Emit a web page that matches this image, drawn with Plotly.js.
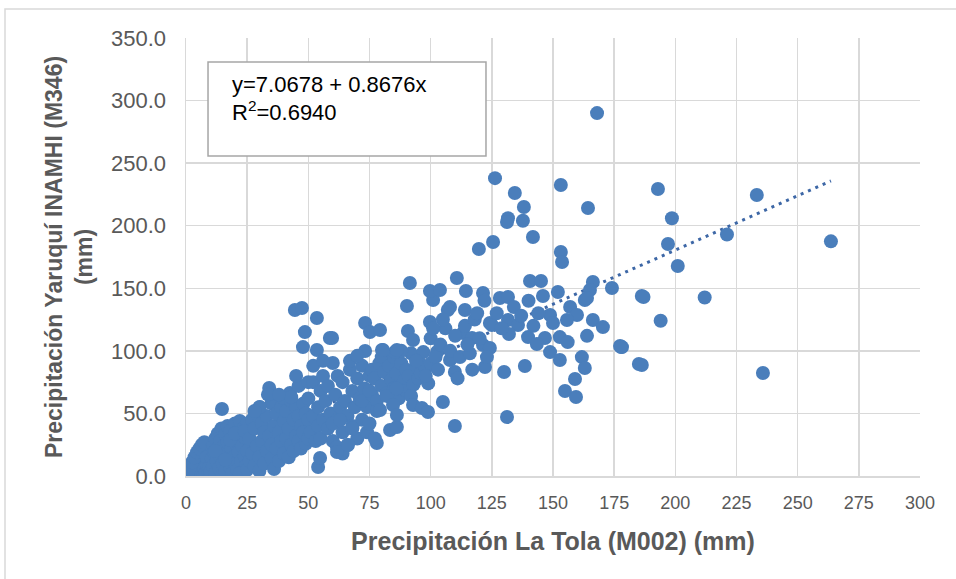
<!DOCTYPE html>
<html>
<head>
<meta charset="utf-8">
<script src="https://cdn.plot.ly/plotly-3.0.1.min.js"></script>
<style>
  html, body { margin: 0; padding: 0; background: #ffffff; }
  #chart { width: 956px; height: 579px; }
</style>
</head>
<body>
<div id="chart"></div>
<script>
// ---- Data ----
// Precipitación La Tola (M002) (mm)  -> x
// Precipitación Yaruquí INAMHI (M346) (mm) -> y

// band 0-10 mm
const bandA_x = [0.2,0.5,1,1,1.5, 2,2,2.5,3,3, 3.5,4,4,4.5,5, 5,5.5,6,6,6.5, 7,7,7.5,8,8, 8.5,9,9,9.5,10, 0.5,1.5,2.5,3.5,4.5, 5.5,6.5,7.5,8.5,9.5];
const bandA_y = [0,1,0,3,5, 0.5,8,2,4,10, 1,6,13,2,0, 16,8,3,11,20, 0,14,6,2,18, 9,24,4,12,1, 2,6,11,15,19, 22,25,27,15,7];

// band 10-25 mm
const bandB_x = [10,10.5,11,11,11.5, 12,12,12.5,13,13, 13.5,14,14,14.5,15, 15,15.5,16,16,16.5, 17,17,17.5,18,18, 18.5,19,19,19.5,20, 20,20.5,21,21,21.5, 22,22,22.5,23,23, 23.5,24,24,24.5,25, 25,14.7,12,16,18, 20,22,24];
const bandB_y = [3,14,25,8,19, 30,2,12,22,34, 6,16,28,38,1, 10,24,33,4,18, 27,40,13,7,36, 22,30,2,15,42, 10,26,5,35,19, 28,44,12,3,24, 38,16,31,8,20, 42,53.5,20,13,29, 34,2,36];

// band 25-50 mm
const bandC_x = [25,26,26,27,27, 28,28,29,29,30, 30,30,31,31,32, 32,33,33,34,34, 35,35,35,36,36, 37,37,38,38,39, 39,40,40,40,41, 41,42,42,43,43, 44,44,45,45,46, 46,47,47,48,48, 49,49,50,50];
const bandC_y = [5,12,30,18,45, 8,38,24,50,4, 15,55,28,42,10, 35,20,48,32,70.3, 14,25,58,5.6,40, 22,50,12,35,28, 55,18,44,62,30, 52,15,38,25,60, 20,45,32,55,28, 48,22,40,35,58, 26,50,30,45];
const bandC2_x = [44.5,47.4,53.5,48.6,47.8,53.5,58.8,42.5,43,30.2,33.5,54,54.8,46,50,45,38,28];
const bandC2_y = [132.7,134.2,126.3,115,103,100.7,110.3,66.3,63,55.1,65,7.2,14.4,72,75,80,65,52];

// band 50-75 mm
const bandD_x = [50,51,52,52,53, 54,54,55,55,56, 56,57,58,58,59, 60,60,61,62,62, 63,64,64,65,66, 66,67,68,68,69, 70,70,71,72,72, 73,74,74,75,75, 52,56,60,64,68, 72,76];
const bandD_y = [62,35,48,75,28, 55,40,68,30,80, 45,60,38,72,50, 90.3,28,65,45,80, 55,35,75,60,24.8, 48,85,40,68,55, 30,78,62,45,88, 70,35,55,80,42, 88,92,42,18,38, 60,65];
const bandD2_x = [61.7,61.7,63,66.2,73.2,75.2,79.3,73.2,80.1,59.7,78,77.2,67,70];
const bandD2_y = [23.2,19.2,44.8,24.8,122.3,115,116.7,99.9,100.7,110.3,26.4,30,92,96];

// band 75-100 mm
const bandE_x = [75,76,77,78,79, 80,80,81,82,83, 84,85,85,86,87, 88,89,90,90,91, 92,93,94,95,95, 96,97,98,99,100, 78,82,86,88,92, 94,98];
const bandE_y = [68,85,78,60,90, 72,95,83,66,88, 77,70,95,82,62, 90,76,85,68,80, 98,73,88,78,92, 82,99,86,74,90, 52,64,70,100,64, 92,80];
const bandE2_x = [83.4,86.2,84.6,86.2,92.8,96.4,98.9,85.4,90.7,90.3,92.8,99.7,102.6,91.5,80.5,86.2,79.3];
const bandE2_y = [36.8,39.2,56.7,48.7,56.7,54.3,51.1,99.1,115.9,135.8,108.7,123,99.1,154.2,100.7,100.7,52.7];

// band 100-125 mm
const bandF_x = [101,107.9,107,114,110.7, 99.7,103.8,114.4,121.4,113.2, 116.9,121.4,122.2,109.9,105, 109.9,107.9,124.2,119.7,124.2, 125,
                 100,102,104,106,108, 110,112,114,116,118, 120,103,111,117,123, 105,115,119,101,122];
const bandF_y = [140.6,135,132.7,132.7,158.2, 147.8,148.6,147.8,146.2,114.3, 110.3,104.7,87.1,83.1,59.1, 40,92.7,122.3,181.4,102.3, 120.7,
                 110,95,105,118,100, 112,95,120,98,125, 110,85,78,85,95, 125,105,130,118,140];

// band 125-190 mm
const bandG_x = [126.3,134.4,153.2,138.1,131.6, 141.8,125.5,131.2,137.7,153.2, 153.7,140.6,145.1,166.3,174.1, 186.3,165.1,163,152,145.9,
                 128.3,131.6,157,159.8,148.8, 166.3,170.4,155.7,150,131.6, 135.7,132,139.8,163.9,146.7, 152.8,156,143.4,148.8,152.8,
                 161.8,163,178.2,185.1,138.5, 130,159,154.9,159.4,131.2, 164.3,168,127,129,134, 137,140,142,144,163.9, 177.4];
const bandG_y = [238,226.1,232.5,215,206, 191,187,203,204,179, 171,155.8,155.8,155,150.2, 143.8,148.6,140.6,147,143.8,
                 142.2,143,135,128.7,128.7, 124.7,119,124.7,122.3,124.7, 120.7,113.5,111,112,110.3, 111,107,105.5,99,92.7,
                 95,86.3,103,89.5,87.9, 83.1,77.5,67.9,63.1,47.1, 214.2,290,130,118,135, 128,140,120,130,142.2, 103.9];

// isolated high values
const bandH_x = [192.9,198.6,197,201,221.1,233.3,263.6,235.8,212,194,187,186.3,177.8];
const bandH_y = [229.3,206,185.4,167.8,193,224.5,187.5,82.3,142.6,124,143,88.7,103];

// regression reported on the chart
const intercept = 7.0678;
const slope = 0.8676;
const r2 = 0.6940;

const xTicks = [0,25,50,75,100,125,150,175,200,225,250,275,300];
const yTicks = [0,50,100,150,200,250,300,350];

// ---- Build ----
const allX = [].concat(bandA_x, bandB_x, bandC_x, bandC2_x, bandD_x, bandD2_x, bandE_x, bandE2_x, bandF_x, bandG_x, bandH_x);
const allY = [].concat(bandA_y, bandB_y, bandC_y, bandC2_y, bandD_y, bandD2_y, bandE_y, bandE2_y, bandF_y, bandG_y, bandH_y);

const xMin = Math.min.apply(null, allX);
const xMax = Math.max.apply(null, allX);
const trendX = [xMin, xMax];
const trendY = trendX.map(v => intercept + slope * v);

const grey = '#595959';
const fam = '"Liberation Sans", Arial, sans-serif';

const traces = [
  {
    x: trendX, y: trendY, type: 'scatter', mode: 'lines',
    line: { color: '#3d67a6', width: 3, dash: '3px,5px' },
    hoverinfo: 'skip'
  },
  {
    x: allX, y: allY, type: 'scatter', mode: 'markers',
    marker: { color: '#4a7ebb', size: 14, line: { width: 0 } }
  }
];

const layout = {
  width: 956, height: 579,
  margin: { l: 186, r: 36, t: 38, b: 103 },
  paper_bgcolor: '#ffffff', plot_bgcolor: '#ffffff',
  showlegend: false,
  xaxis: {
    range: [0, 300], tickvals: xTicks, ticktext: xTicks.map(String),
    tickfont: { family: fam, size: 18, color: grey },
    gridcolor: '#d9d9d9', gridwidth: 1.5, showline: true, linecolor: '#d9d9d9', linewidth: 1.5,
    zeroline: false, ticks: '', ticklabelstandoff: 10,
    title: { text: 'Precipitación La Tola (M002) (mm)', standoff: 20,
             font: { family: fam, size: 25, color: grey, weight: 'bold' } }
  },
  yaxis: {
    range: [0, 350], tickvals: yTicks, ticktext: yTicks.map(v => v.toFixed(1)),
    tickfont: { family: fam, size: 22, color: grey },
    gridcolor: '#d9d9d9', gridwidth: 1.5, showline: true, linecolor: '#d9d9d9', linewidth: 1.5,
    zeroline: false, ticks: '', ticklabelstandoff: 14,
    title: { text: 'Precipitación Yaruquí INAMHI (M346)<br>(mm)', standoff: 12,
             font: { family: fam, size: 23, color: grey, weight: 'bold' } }
  },
  shapes: [
    { type: 'rect', xref: 'paper', yref: 'paper', x0: 0.030, x1: 0.4087, y0: 0.7306, y1: 0.945,
      line: { color: '#a6a6a6', width: 1.5 }, fillcolor: '#ffffff', layer: 'above' },
    { type: 'rect', xref: 'paper', yref: 'paper', x0: -0.2466, x1: 1.06, y0: -0.3, y1: 1.0662,
      line: { color: '#d9d9d9', width: 1.5 }, fillcolor: 'rgba(0,0,0,0)', layer: 'below' }
  ],
  annotations: [
    { xref: 'paper', yref: 'paper', x: 0.0599, y: 0.8927, xanchor: 'left', yanchor: 'middle', align: 'left',
      showarrow: false,
      text: 'y=' + intercept.toFixed(4) + ' + ' + slope.toFixed(4) + 'x',
      font: { family: fam, size: 22, color: '#000000' } },
    { xref: 'paper', yref: 'paper', x: 0.0599, y: 0.8333, xanchor: 'left', yanchor: 'middle', align: 'left',
      showarrow: false,
      text: 'R<sup>2</sup>=' + r2.toFixed(4),
      font: { family: fam, size: 22, color: '#000000' } }
  ]
};

Plotly.newPlot('chart', traces, layout, { displayModeBar: false, staticPlot: true });
</script>
</body>
</html>
